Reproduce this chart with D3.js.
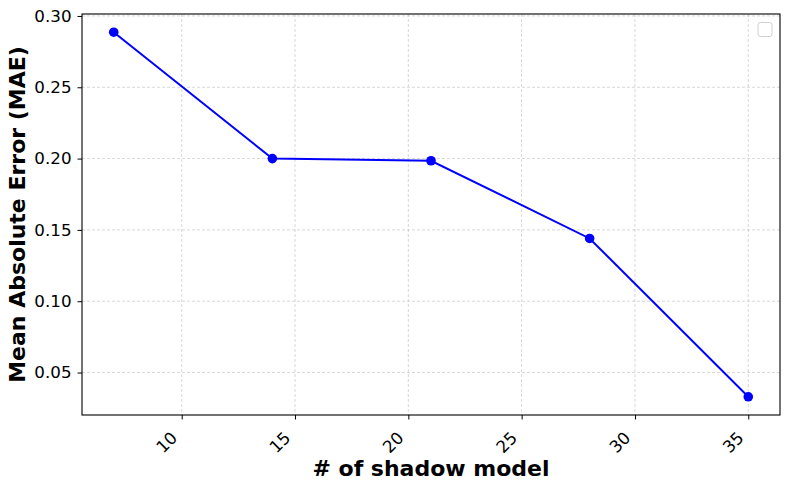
<!DOCTYPE html>
<html>
<head>
<meta charset="utf-8">
<script src="https://cdn.jsdelivr.net/npm/d3@7"></script>
<style>
  body { margin: 0; background: #fff; }
  text { font-family: "DejaVu Sans", sans-serif; }
</style>
</head>
<body>
<svg id="chart" width="790" height="489"></svg>
<script>
// data
const shadowModels = [7, 14, 21, 28, 35];
const maeValues = [0.2886, 0.2000, 0.1985, 0.1440, 0.0330];
const xTicks = [10, 15, 20, 25, 30, 35];
const yTicks = [0.05, 0.10, 0.15, 0.20, 0.25, 0.30];

const width = 790, height = 489;
const margin = { top: 14, right: 10, bottom: 74, left: 82 };
const innerW = width - margin.left - margin.right;
const innerH = height - margin.top - margin.bottom;

const svg = d3.select('#chart');
const g = svg.append('g').attr('transform', `translate(${margin.left},${margin.top})`);

// matplotlib style 5% padding
const xPad = (d3.max(shadowModels) - d3.min(shadowModels)) * 0.05;
const yPad = (d3.max(maeValues) - d3.min(maeValues)) * 0.05;

const x = d3.scaleLinear()
  .domain([d3.min(shadowModels) - xPad, d3.max(shadowModels) + xPad])
  .range([0, innerW]);
const y = d3.scaleLinear()
  .domain([d3.min(maeValues) - yPad, d3.max(maeValues) + yPad])
  .range([innerH, 0]);

// grid
g.append('g')
  .selectAll('line')
  .data(xTicks)
  .join('line')
  .attr('x1', d => x(d)).attr('x2', d => x(d))
  .attr('y1', 0).attr('y2', innerH)
  .attr('stroke', '#b0b0b0').attr('stroke-width', 0.7)
  .attr('stroke-dasharray', '3,2').attr('opacity', 0.7);
g.append('g')
  .selectAll('line')
  .data(yTicks)
  .join('line')
  .attr('x1', 0).attr('x2', innerW)
  .attr('y1', d => y(d)).attr('y2', d => y(d))
  .attr('stroke', '#b0b0b0').attr('stroke-width', 0.7)
  .attr('stroke-dasharray', '3,2').attr('opacity', 0.7);

// axes
const xAxis = g.append('g')
  .attr('transform', `translate(0,${innerH})`)
  .call(d3.axisBottom(x).tickValues(xTicks).tickSize(4.5).tickFormat(d3.format('d')));
xAxis.select('.domain').remove();
xAxis.selectAll('line').attr('stroke', '#000');
xAxis.selectAll('text')
  .attr('font-size', 16.7)
  .attr('font-family', 'DejaVu Sans')
  .attr('fill', '#000')
  .attr('text-anchor', 'end')
  .attr('x', 0).attr('y', 0).attr('dy', 0)
  .attr('transform', 'translate(-4,24) rotate(-45)');

const yAxis = g.append('g')
  .call(d3.axisLeft(y).tickValues(yTicks).tickSize(4.5).tickPadding(6).tickFormat(d3.format('.2f')));
yAxis.select('.domain').remove();
yAxis.selectAll('line').attr('stroke', '#000');
yAxis.selectAll('text')
  .attr('font-size', 16.7)
  .attr('font-family', 'DejaVu Sans')
  .attr('fill', '#000');

// frame
g.append('rect')
  .attr('width', innerW).attr('height', innerH)
  .attr('fill', 'none').attr('stroke', '#000').attr('stroke-width', 1.1);

// line + markers
const line = d3.line().x((d, i) => x(shadowModels[i])).y(d => y(d));
g.append('path')
  .datum(maeValues)
  .attr('d', line)
  .attr('fill', 'none')
  .attr('stroke', '#0000ff')
  .attr('stroke-width', 2);
g.append('g')
  .selectAll('circle')
  .data(maeValues)
  .join('circle')
  .attr('cx', (d, i) => x(shadowModels[i]))
  .attr('cy', d => y(d))
  .attr('r', 4.8)
  .attr('fill', '#0000ff');

// empty legend box
g.append('rect')
  .attr('x', innerW - 22).attr('y', 8.5)
  .attr('width', 14).attr('height', 14)
  .attr('rx', 2.5)
  .attr('fill', '#fff').attr('stroke', '#d0d0d0').attr('stroke-width', 1);

// labels
svg.append('text')
  .attr('x', margin.left + innerW / 2)
  .attr('y', 476)
  .attr('text-anchor', 'middle')
  .attr('font-size', 22).attr('font-weight', 'bold')
  .text('# of shadow model');
svg.append('text')
  .attr('transform', `translate(25,${margin.top + innerH / 2}) rotate(-90)`)
  .attr('text-anchor', 'middle')
  .attr('font-size', 22).attr('font-weight', 'bold')
  .text('Mean Absolute Error (MAE)');
</script>
</body>
</html>
